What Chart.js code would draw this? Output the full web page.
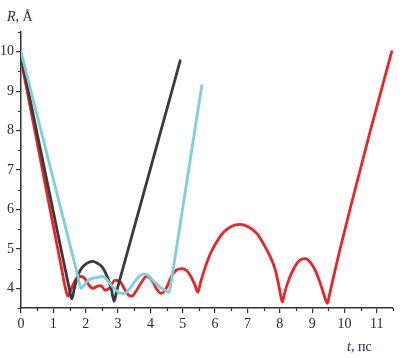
<!DOCTYPE html>
<html><head><meta charset="utf-8">
<script src="https://cdn.jsdelivr.net/npm/chart.js@4"></script>
<style>html,body{margin:0;padding:0;background:#fff}#wrap{width:409px;height:358px;position:relative}</style>
</head><body><div id="wrap"><canvas id="c"></canvas></div>
<script>
// ---- data ----
const xTickValues = [0,1,2,3,4,5,6,7,8,9,10,11];
const yTickValues = [4,5,6,7,8,9,10];
const xMinorValues = [0.5,1.5,2.5,3.5,4.5,5.5,6.5,7.5,8.5,9.5,10.5,11.5];
const yMinorValues = [3.5,4.5,5.5,6.5,7.5,8.5,9.5,10.5];

const redT = [0,0.5,1.0,1.25,1.36,1.45,1.55,1.68,1.84,1.97,2.1,2.22,2.35,2.47,2.6,2.75,2.9,3.05,3.2,3.32,3.42,3.55,3.7,3.88,4.05,4.2,4.35,4.5,4.65,4.8,4.97,5.12,5.25,5.37,5.47,5.55,5.7,5.85,6.05,6.26,6.5,6.78,7.05,7.3,7.5,7.71,7.85,7.95,8.02,8.08,8.14,8.22,8.4,8.6,8.78,8.95,9.1,9.22,9.32,9.4,9.47,9.54,9.65,9.85,10.2,10.8,11.46];
const redR = [9.8,7.69,5.57,4.52,4.05,3.8,3.98,4.2,4.3,4.25,4.08,4.0,4.05,4.07,3.95,4.02,4.2,4.18,3.98,3.83,3.8,3.92,4.12,4.3,4.2,3.97,3.87,4.02,4.3,4.46,4.5,4.45,4.3,4.1,3.9,4.15,4.55,4.87,5.18,5.42,5.57,5.62,5.55,5.38,5.12,4.79,4.5,4.15,3.85,3.65,3.85,4.08,4.45,4.7,4.75,4.65,4.45,4.2,3.95,3.75,3.62,3.85,4.25,4.95,6.1,8.0,10.0];

const blackT = [0,0.5,1.0,1.35,1.49,1.57,1.65,1.74,1.85,1.95,2.1,2.22,2.35,2.5,2.62,2.72,2.8,2.88,2.95,3.2,4.0,4.7,4.92];
const blackR = [9.9,7.92,5.94,4.55,4.0,3.73,4.0,4.28,4.48,4.58,4.66,4.68,4.64,4.55,4.38,4.18,3.95,3.67,3.9,4.65,7.03,9.11,9.77];

const cyanT = [0,0.5,1.0,1.6,1.75,1.85,1.95,2.08,2.2,2.35,2.5,2.62,2.75,2.9,3.05,3.2,3.35,3.5,3.65,3.78,3.92,4.05,4.2,4.35,4.5,4.58,4.63,4.8,5.3,5.59];
const cyanR = [10,8.38,6.76,4.82,4.33,4.0,4.08,4.2,4.25,4.27,4.3,4.25,4.12,3.98,3.88,3.87,3.98,4.15,4.3,4.36,4.33,4.22,4.1,4.0,3.93,3.9,4.1,4.99,7.62,9.14];

const xTitleItalic = 't', xTitleRest = ', пс';
const yTitleItalic = 'R', yTitleRest = ', Å';

const pts = (t, r) => t.map((v, i) => ({x: v, y: r[i]}));
const textColor = '#222a44';
const axisColor = '#333';
const serif = '"Liberation Serif", "Times New Roman", serif';

const minorTicks = {
  id: 'minorTicks',
  afterDraw(chart) {
    const ctx = chart.ctx, a = chart.chartArea, sx = chart.scales.x, sy = chart.scales.y;
    ctx.save();
    ctx.strokeStyle = axisColor; ctx.lineWidth = 1.2;
    ctx.beginPath();
    xMinorValues.forEach(v => { const p = Math.round(sx.getPixelForValue(v)) + 0.5; ctx.moveTo(p, a.bottom); ctx.lineTo(p, a.bottom + 3); });
    yMinorValues.forEach(v => { const p = Math.round(sy.getPixelForValue(v)) + 0.5; ctx.moveTo(a.left, p); ctx.lineTo(a.left - 3, p); });
    ctx.stroke();
    ctx.fillStyle = textColor; ctx.textBaseline = 'alphabetic'; ctx.textAlign = 'left';
    ctx.font = 'italic 14px ' + serif;
    ctx.fillText(yTitleItalic, 7, 21);
    let w = ctx.measureText(yTitleItalic).width;
    ctx.font = '14px ' + serif;
    ctx.fillText(yTitleRest, 7 + w, 21);
    ctx.font = 'italic 14px ' + serif;
    ctx.fillText(xTitleItalic, 347, 351);
    w = ctx.measureText(xTitleItalic).width;
    ctx.font = '14px ' + serif;
    ctx.fillText(xTitleRest, 347 + w, 351);
    ctx.restore();
  }
};

const lineDs = (data, color) => ({
  data, borderColor: color, borderWidth: 2.8, pointRadius: 0, fill: false,
  cubicInterpolationMode: 'monotone', borderCapStyle: 'round', borderJoinStyle: 'round'
});

new Chart(document.getElementById('c'), {
  type: 'line',
  data: {
    datasets: [
      lineDs(pts(cyanT, cyanR), '#7fcfdb'),
      lineDs(pts(blackT, blackR), '#3a3a3a'),
      lineDs(pts(redT, redR), '#e5262b')
    ]
  },
  options: {
    responsive: true, maintainAspectRatio: false, devicePixelRatio: 1, animation: false,
    layout: { padding: { top: 32, right: 16, left: 0, bottom: 0 } },
    plugins: { legend: { display: false }, tooltip: { enabled: false } },
    scales: {
      x: {
        type: 'linear', min: 0, max: 11.5,
        afterBuildTicks: s => { s.ticks = xTickValues.map(v => ({ value: v })); },
        afterFit: s => { s.height = 50; },
        ticks: { font: { family: serif, size: 14 }, color: textColor, padding: 3, maxRotation: 0, autoSkip: false },
        grid: { drawOnChartArea: false, drawTicks: true, tickLength: 5, color: axisColor, lineWidth: 1.2 },
        border: { color: axisColor, width: 1.5 }
      },
      y: {
        type: 'linear', min: 3.5, max: 10.5,
        afterBuildTicks: s => { s.ticks = yTickValues.map(v => ({ value: v })); },
        afterFit: s => { s.width = 21; },
        ticks: { font: { family: serif, size: 14 }, color: textColor, padding: 2, autoSkip: false },
        grid: { drawOnChartArea: false, drawTicks: true, tickLength: 5, color: axisColor, lineWidth: 1.2 },
        border: { color: axisColor, width: 1.5 }
      }
    }
  },
  plugins: [minorTicks]
});
</script></body></html>
